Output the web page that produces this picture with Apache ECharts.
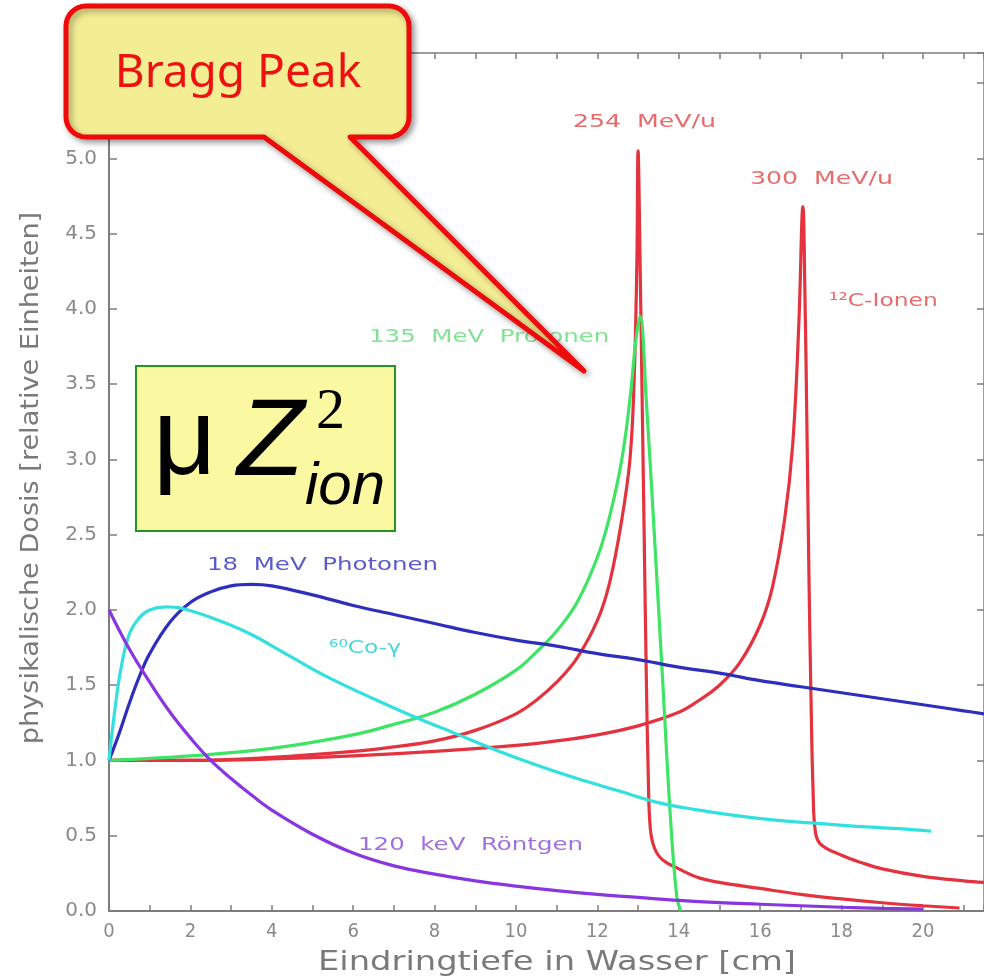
<!DOCTYPE html>
<html>
<head>
<meta charset="utf-8">
<script src="https://cdn.jsdelivr.net/npm/echarts@6/dist/echarts.min.js"></script>
<style>
  html, body { margin: 0; padding: 0; background: #ffffff; }
  #chart { width: 984px; height: 980px; }
</style>
</head>
<body>
<div id="chart"></div>
<script>
// Tiefendosiskurven in Wasser: Eindringtiefe [cm] gegen physikalische Dosis (relativ)

// 120 keV Röntgen
const xRoentgen = [0, 0.5, 1, 1.5, 2, 2.5, 3, 3.5, 4, 5, 6, 7, 8, 9, 10, 11, 12, 13, 14, 15, 16, 17, 18, 19, 20];
const yRoentgen = [2.0, 1.74, 1.52, 1.32, 1.15, 1.0, 0.88, 0.77, 0.67, 0.51, 0.385, 0.30, 0.245, 0.20, 0.165, 0.135, 0.11, 0.09, 0.07, 0.055, 0.045, 0.035, 0.025, 0.018, 0.012];

// 60Co-gamma
const xCobalt = [0, 0.15, 0.3, 0.5, 0.75, 1, 1.4, 1.8, 2.5, 3.4, 4.4, 5.4, 6.5, 7.5, 8.5, 9.5, 10.5, 11.5, 12.5, 13.5, 14.5, 15.5, 16.5, 17.5, 18.5, 19.5, 20.2];
const yCobalt = [1.0, 1.35, 1.62, 1.84, 1.95, 2.0, 2.02, 2.01, 1.95, 1.85, 1.70, 1.55, 1.41, 1.29, 1.18, 1.07, 0.97, 0.88, 0.80, 0.72, 0.67, 0.63, 0.60, 0.58, 0.56, 0.545, 0.53];

// 18 MeV Photonen
const xPhoton = [0, 0.25, 0.5, 0.75, 1, 1.5, 2, 2.5, 3, 3.5, 4, 5, 6, 7, 8, 9, 10, 11, 12, 13, 14, 15, 16, 17, 18, 19, 20, 21, 21.5];
const yPhoton = [1.0, 1.18, 1.38, 1.56, 1.71, 1.92, 2.05, 2.12, 2.16, 2.17, 2.16, 2.10, 2.03, 1.97, 1.91, 1.85, 1.80, 1.76, 1.71, 1.67, 1.62, 1.58, 1.53, 1.49, 1.45, 1.41, 1.37, 1.33, 1.31];

// 135 MeV Protonen
const xProton = [0, 2, 4, 6, 7, 8, 9, 10, 10.5, 11, 11.5, 12, 12.3, 12.6, 12.8, 12.95, 13.05, 13.2, 13.4, 13.6, 13.8, 13.95, 14.05];
const yProton = [1.0, 1.03, 1.08, 1.17, 1.24, 1.32, 1.44, 1.60, 1.72, 1.86, 2.05, 2.35, 2.62, 3.0, 3.4, 3.8, 3.95, 3.4, 2.5, 1.55, 0.6, 0.1, 0.0];

// 12C-Ionen, 254 MeV/u
const xCarbon254 = [0, 2, 4, 6, 7, 8, 9, 10, 10.5, 11, 11.5, 12, 12.3, 12.6, 12.8, 12.9, 12.97, 13.0, 13.05, 13.1, 13.15, 13.2, 13.25, 13.3, 13.4, 13.6, 14, 14.5, 15, 16, 17, 18, 19, 20, 20.9];
const yCarbon254 = [1.0, 1.0, 1.02, 1.06, 1.09, 1.13, 1.2, 1.31, 1.4, 1.52, 1.68, 1.93, 2.18, 2.6, 3.0, 3.5, 4.3, 5.05, 4.3, 3.4, 2.5, 1.6, 0.9, 0.55, 0.42, 0.34, 0.28, 0.22, 0.19, 0.15, 0.11, 0.08, 0.055, 0.035, 0.02];

// 12C-Ionen, 300 MeV/u
const xCarbon300 = [0, 2, 4, 6, 8, 10, 11, 12, 13, 14, 14.5, 15, 15.5, 16, 16.3, 16.6, 16.8, 16.95, 17.05, 17.1, 17.15, 17.2, 17.25, 17.3, 17.36, 17.5, 18, 18.5, 19, 20, 21, 21.5];
const yCarbon300 = [1.0, 1.0, 1.01, 1.03, 1.06, 1.10, 1.13, 1.17, 1.23, 1.32, 1.40, 1.50, 1.65, 1.90, 2.15, 2.6, 3.1, 3.9, 4.68, 4.1, 3.2, 2.2, 1.4, 0.8, 0.52, 0.44, 0.37, 0.32, 0.28, 0.23, 0.20, 0.19];

// Achsenbeschriftung
const xTickLabels = ['0', '2', '4', '6', '8', '10', '12', '14', '16', '18', '20'];
const yTickLabels = ['0.0', '0.5', '1.0', '1.5', '2.0', '2.5', '3.0', '3.5', '4.0', '4.5', '5.0', '5.5'];

const pairs = (xs, ys) => xs.map((x, i) => [x, ys[i]]);

const chart = echarts.init(document.getElementById('chart'), null, { renderer: 'canvas' });

const axisGrey = '#7d7d7d';
const tickFont = '"DejaVu Sans", sans-serif';

function curve(name, xs, ys, color) {
  return {
    name, type: 'line', data: pairs(xs, ys),
    showSymbol: false, smooth: 0.4,
    lineStyle: { color, width: 3.2 }, itemStyle: { color },
    emphasis: { disabled: true }, silent: true
  };
}

function plotLabel(text, x, y, color, sx) {
  return {
    type: 'text', x, y, scaleX: sx, z: 40, silent: true,
    style: {
      text, fill: color, font: '18px "DejaVu Sans", sans-serif',
      textAlign: 'left', textVerticalAlign: 'middle', align: 'left', verticalAlign: 'middle'
    }
  };
}

// Umriss der Sprechblase: abgerundetes Rechteck mit Spitze nach unten rechts
function calloutOutline(x0, y0, x1, y1, r, tailA, tailB, tip) {
  const pts = [];
  const arc = (cx, cy, a0, a1) => {
    for (let k = 0; k <= 8; k++) {
      const a = a0 + (a1 - a0) * k / 8;
      pts.push([cx + r * Math.cos(a), cy + r * Math.sin(a)]);
    }
  };
  arc(x0 + r, y0 + r, Math.PI, 1.5 * Math.PI);
  arc(x1 - r, y0 + r, 1.5 * Math.PI, 2 * Math.PI);
  arc(x1 - r, y1 - r, 0, 0.5 * Math.PI);
  pts.push([tailB, y1], tip, [tailA, y1]);
  arc(x0 + r, y1 - r, 0.5 * Math.PI, Math.PI);
  return pts;
}

const option = {
  backgroundColor: '#ffffff',
  animation: false,
  grid: { left: 109, right: -2, top: 53, bottom: 69, containLabel: false },
  xAxis: [
    {
      type: 'value', min: 0, max: 21.5, interval: 2, position: 'bottom',
      axisLine: { show: true, onZero: false, lineStyle: { color: axisGrey, width: 2 } },
      axisTick: { show: true, inside: true, length: 6, lineStyle: { color: axisGrey, width: 1.5 } },
      minorTick: { show: true, splitNumber: 2, length: 6, lineStyle: { color: axisGrey, width: 1.5 } },
      splitLine: { show: false },
      axisLabel: {
        show: true, showMaxLabel: false, margin: 11, color: '#8a8a8a',
        fontFamily: '"Liberation Sans Narrow", "DejaVu Sans Condensed", sans-serif', fontSize: 20,
        formatter: v => { const i = xTickLabels.indexOf(String(v)); return i >= 0 ? xTickLabels[i] : ''; }
      }
    },
    {
      type: 'value', min: 0, max: 21.5, interval: 1, position: 'top',
      axisLine: { show: true, onZero: false, lineStyle: { color: axisGrey, width: 1.5 } },
      axisTick: { show: true, inside: true, length: 6, lineStyle: { color: axisGrey, width: 1.5 } },
      splitLine: { show: false }, axisLabel: { show: false }
    }
  ],
  yAxis: [
    {
      type: 'value', min: 0, max: 5.7, interval: 0.5, position: 'left',
      axisLine: { show: true, onZero: false, lineStyle: { color: axisGrey, width: 2 } },
      axisTick: { show: true, inside: true, length: 8, lineStyle: { color: axisGrey, width: 1.5 } },
      splitLine: { show: false },
      axisLabel: {
        show: true, showMaxLabel: false, margin: 12, color: '#8a8a8a',
        fontFamily: tickFont, fontSize: 20,
        formatter: v => { const s = v.toFixed(1); return yTickLabels.includes(s) ? s : ''; }
      }
    },
    {
      type: 'value', min: 0, max: 5.7, interval: 0.5, position: 'right',
      axisLine: { show: true, onZero: false, lineStyle: { color: axisGrey, width: 1.5 } },
      axisTick: { show: true, inside: true, length: 7, lineStyle: { color: axisGrey, width: 1.5 } },
      splitLine: { show: false }, axisLabel: { show: false }
    }
  ],
  series: [
    curve('12C-Ionen 254 MeV/u', xCarbon254, yCarbon254, '#e4333f'),
    curve('12C-Ionen 300 MeV/u', xCarbon300, yCarbon300, '#e4333f'),
    curve('135 MeV Protonen', xProton, yProton, '#3ee463'),
    curve('18 MeV Photonen', xPhoton, yPhoton, '#2e2ebd'),
    curve('60Co-γ', xCobalt, yCobalt, '#33e0e0'),
    curve('120 keV Röntgen', xRoentgen, yRoentgen, '#8a36e0')
  ],
  graphic: [
    // Achsentitel
    {
      type: 'text', x: 557, y: 963, scaleX: 1.25, z: 30, silent: true,
      style: {
        text: 'Eindringtiefe in Wasser [cm]', fill: '#7a7a7a', font: '27px "DejaVu Sans", sans-serif',
        textAlign: 'center', textVerticalAlign: 'middle', align: 'center', verticalAlign: 'middle'
      }
    },
    {
      type: 'text', x: 32, y: 478, rotation: Math.PI / 2, scaleX: 1.13, z: 30, silent: true,
      style: {
        text: 'physikalische Dosis [relative Einheiten]', fill: '#7a7a7a', font: '24px "DejaVu Sans", sans-serif',
        textAlign: 'center', textVerticalAlign: 'middle', align: 'center', verticalAlign: 'middle'
      }
    },
    // Kurvenbeschriftungen
    plotLabel('254  MeV/u', 573, 122, '#e86a6a', 1.4),
    plotLabel('300  MeV/u', 750, 179, '#e86a6a', 1.4),
    plotLabel('¹²C-Ionen', 829, 301, '#e86a6a', 1.3),
    plotLabel('135  MeV  Protonen', 369, 337, '#7fe492', 1.36),
    plotLabel('18  MeV  Photonen', 207, 565, '#5a5acc', 1.36),
    plotLabel('⁶⁰Co-γ', 329, 648, '#45d8d8', 1.3),
    plotLabel('120  keV  Röntgen', 358, 845, '#a070dc', 1.36),
    // Sprechblase
    {
      type: 'polygon', z: 60, silent: true,
      shape: { points: calloutOutline(66, 6, 409, 137, 20, 264, 350, [584, 371]) },
      style: {
        fill: '#f3ee93', stroke: '#ee0a0a', lineWidth: 5, lineJoin: 'round',
        shadowBlur: 6, shadowOffsetX: 3, shadowOffsetY: 3, shadowColor: 'rgba(0,0,0,0.35)'
      }
    },
    {
      type: 'text', x: 238, y: 74, z: 61, silent: true,
      style: {
        text: 'Bragg Peak', fill: '#ee1111', font: '46px "Noto Sans", sans-serif',
        textAlign: 'center', textVerticalAlign: 'middle', align: 'center', verticalAlign: 'middle'
      }
    },
    // Formelkasten
    {
      type: 'rect', z: 55, silent: true,
      shape: { x: 136, y: 366, width: 259, height: 165 },
      style: { fill: '#faf8a0', stroke: '#239423', lineWidth: 2 }
    },
    {
      type: 'text', x: 153, y: 444, z: 56, silent: true,
      style: { text: 'μ', fill: '#000', font: '110px "Liberation Sans", sans-serif', textAlign: 'left', textVerticalAlign: 'middle', align: 'left', verticalAlign: 'middle' }
    },
    {
      type: 'text', x: 237, y: 444, z: 56, silent: true,
      style: { text: 'Z', fill: '#000', font: 'italic 110px "Liberation Sans", sans-serif', textAlign: 'left', textVerticalAlign: 'middle', align: 'left', verticalAlign: 'middle' }
    },
    {
      type: 'text', x: 316, y: 413, z: 56, silent: true,
      style: { text: '2', fill: '#000', font: '58px "Liberation Serif", serif', textAlign: 'left', textVerticalAlign: 'middle', align: 'left', verticalAlign: 'middle' }
    },
    {
      type: 'text', x: 305, y: 487, z: 56, silent: true,
      style: { text: 'ion', fill: '#000', font: 'italic 60px "Liberation Sans", sans-serif', textAlign: 'left', textVerticalAlign: 'middle', align: 'left', verticalAlign: 'middle' }
    }
  ]
};

chart.setOption(option);
</script>
</body>
</html>
